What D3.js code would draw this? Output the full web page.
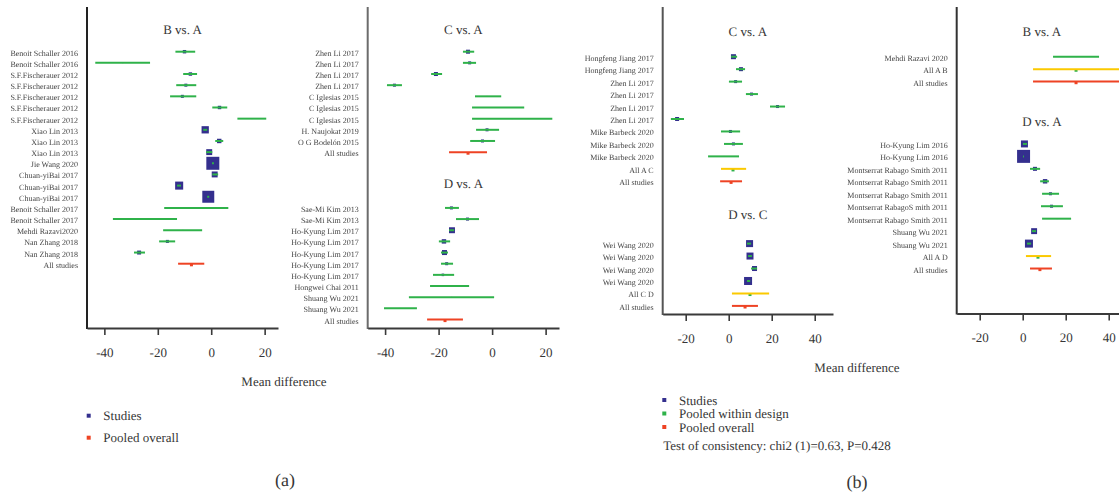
<!DOCTYPE html>
<html>
<head>
<meta charset="utf-8">
<script src="https://cdn.jsdelivr.net/npm/d3@7"></script>
<style>
  body { margin: 0; background: #fff; }
  svg { display: block; font-family: "Liberation Serif", "Times New Roman", serif; }
  text { text-rendering: geometricPrecision; }
  .row-label { opacity: 0.999; will-change: opacity; }
</style>
</head>
<body>
<svg id="chart" width="1119" height="493"></svg>
<script>
// Study rows: [study, mean difference, lower 95% CI, upper 95% CI, weight %]
// Pooled rows: [mean difference, lower 95% CI, upper 95% CI]

// (a) pairwise comparisons
const aBvsA = [
  ["Benoit Schaller 2016", -10.0, -13.4, -6.0, 6],
  ["Benoit Schaller 2016", -33.1, -43.4, -22.9, 0.5],
  ["S.F.Fischerauer 2012", -7.8, -10.5, -5.3, 6],
  ["S.F.Fischerauer 2012", -9.5, -13.1, -5.6, 4.6],
  ["S.F.Fischerauer 2012", -10.8, -15.4, -5.6, 4.6],
  ["S.F.Fischerauer 2012", 3.1, 0.4, 6.0, 6],
  ["S.F.Fischerauer 2012", 15.3, 9.8, 20.6, 0.5],
  ["Xiao Lin 2013", -2.25, -3.0, -1.5, 27],
  ["Xiao Lin 2013", 3.0, 1.5, 4.5, 10],
  ["Xiao Lin 2013", -0.75, -1.9, 0.4, 18],
  ["Jie Wang 2020", 0.6, 0.3, 1.0, 86],
  ["Chuan-yiBai 2017", 1.3, 0.4, 2.6, 18],
  ["Chuan-yiBai 2017", -12.0, -12.8, -11.3, 33],
  ["Chuan-yiBai 2017", -1.1, -1.5, -0.75, 73],
  ["Benoit Schaller 2017", -5.7, -17.6, 6.4, 0.5],
  ["Benoit Schaller 2017", -24.9, -36.8, -12.8, 0.5],
  ["Mehdi Razavi2020", -10.6, -18.0, -3.4, 0.5],
  ["Nan Zhang 2018", -16.4, -19.5, -13.5, 4.6],
  ["Nan Zhang 2018", -27.0, -28.9, -24.8, 8]
];
const aBvsAAll = [-7.4, -12.4, -2.6];

const aCvsA = [
  ["Zhen Li 2017", -9.0, -10.9, -6.7, 8.2],
  ["Zhen Li 2017", -8.4, -10.9, -6.0, 4.6],
  ["Zhen Li 2017", -21.0, -22.8, -18.7, 8.2],
  ["Zhen Li 2017", -36.5, -39.3, -33.7, 4.6],
  ["C Iglesias 2015", -1.9, -6.4, 3.4, 0.5],
  ["C Iglesias 2015", 2.2, -7.5, 12.0, 0.5],
  ["C Iglesias 2015", 7.5, -7.5, 22.5, 0.5],
  ["H. Naujokat 2019", -1.9, -6.0, 2.6, 4.6],
  ["O G Bodelón 2015", -3.6, -8.2, 1.1, 4.6]
];
const aCvsAAll = [-9.0, -16.1, -1.9];

const aDvsA = [
  ["Sae-Mi Kim 2013", -15.2, -17.6, -12.4, 4.6],
  ["Sae-Mi Kim 2013", -9.2, -13.5, -4.9, 4.6],
  ["Ho-Kyung Lim 2017", -15.0, -16.1, -14.2, 18],
  ["Ho-Kyung Lim 2017", -18.0, -19.9, -15.7, 10],
  ["Ho-Kyung Lim 2017", -17.8, -19.1, -16.5, 12.8],
  ["Ho-Kyung Lim 2017", -17.0, -19.1, -14.6, 4.6],
  ["Ho-Kyung Lim 2017", -18.4, -22.1, -14.2, 3.2],
  ["Hongwei Chai 2011", -16.1, -23.2, -8.6, 0.5],
  ["Shuang Wu 2021", -15.1, -31.1, 0.75, 0.5],
  ["Shuang Wu 2021", -34.5, -40.4, -28.1, 0.5]
];
const aDvsAAll = [-17.6, -24.3, -10.9];

// (b) comparisons split by design
const bCvsA = [
  ["Hongfeng Jiang 2017", 2.2, 1.1, 3.9, 12.8],
  ["Hongfeng Jiang 2017", 5.7, 3.4, 7.6, 8.2],
  ["Zhen Li 2017", 3.2, 0.1, 6.2, 4.6],
  ["Zhen Li 2017", 10.6, 8.0, 13.6, 4.6],
  ["Zhen Li 2017", 22.7, 19.2, 26.2, 4.6],
  ["Zhen Li 2017", -24.0, -26.9, -20.8, 8.2],
  ["Mike Barbeck 2020", 0.8, -3.6, 5.3, 4.6],
  ["Mike Barbeck 2020", 2.2, -2.2, 6.6, 4.6],
  ["Mike Barbeck 2020", -2.2, -9.6, 4.8, 0.5]
];
const bCvsADesign = ["All A C", 2.0, -3.6, 8.1];
const bCvsAAll = [1.1, -4.0, 6.2];

const bDvsC = [
  ["Wei Wang 2020", 9.7, 8.5, 10.4, 25],
  ["Wei Wang 2020", 9.9, 9.0, 10.8, 25],
  ["Wei Wang 2020", 12.0, 10.4, 13.2, 12.8],
  ["Wei Wang 2020", 9.0, 8.5, 10.0, 32.7]
];
const bDvsCDesign = ["All C D", 9.9, 1.5, 18.8];
const bDvsCAll = [7.6, 1.5, 13.6];

const bBvsA = [
  ["Mehdi Razavi 2020", 24.8, 14.1, 35.5, 0.5]
];
const bBvsADesign = ["All A B", 24.8, 4.8, 44.8];
const bBvsAAll = [24.8, 4.8, 44.8];

const bDvsA = [
  ["Ho-Kyung Lim 2016", 0.8, 0.1, 2.0, 25],
  ["Ho-Kyung Lim 2016", 0.4, 0.2, 0.6, 86],
  ["Montserrat Rabago Smith 2011", 5.7, 3.4, 8.1, 8.2],
  ["Montserrat Rabago Smith 2011", 10.4, 8.1, 12.2, 10],
  ["Montserrat Rabago Smith 2011", 12.9, 9.0, 16.9, 4.6],
  ["Montserrat RabagoS mith 2011", 13.4, 8.5, 18.7, 4.6],
  ["Montserrat Rabago Smith 2011", 16.0, 9.0, 22.5, 0.5],
  ["Shuang Wu 2021", 5.3, 4.3, 6.2, 18],
  ["Shuang Wu 2021", 2.9, 2.0, 3.9, 32.7]
];
const bDvsADesign = ["All A D", 7.1, 1.5, 13.2];
const bDvsAAll = [8.0, 3.4, 13.6];

const ticksA = [-40, -20, 0, 20];
const ticksB = [-20, 0, 20, 40];
const xLabel = "Mean difference";
const legendA = ["Studies", "Pooled overall"];
const legendB = ["Studies", "Pooled within design", "Pooled overall"];
const consistencyText = "Test of consistency: chi2 (1)=0.63, P=0.428";

// ---- styles ----
const C = {
  study: "#342f8e",
  ci: "#2fb24a",
  overall: "#ee4324",
  design: "#fbc900",
  text: "#363636",
  label: "#454545"
};

const svg = d3.select("#chart");
const size = d3.scaleSqrt().domain([0, 100]).range([0, 14]);

function drawPanel(p) {
  const g = svg.append("g");
  const x = d3.scaleLinear().domain(p.domain).range([p.left, p.right]);
  const y = d3.scaleLinear().domain([0, p.rowMax]).range(p.rowRange);

  // left frame line
  g.append("line")
    .attr("x1", p.left).attr("x2", p.left)
    .attr("y1", 7).attr("y2", p.axisY + 1)
    .attr("stroke", p.frame).attr("stroke-width", 2);

  // bottom axis
  const ax = g.append("g")
    .attr("transform", `translate(0,${p.axisY})`)
    .call(d3.axisBottom(x).tickValues(p.ticks).tickFormat(d3.format("d"))
      .tickSize(7).tickSizeOuter(0).tickPadding(12.5));
  ax.select(".domain").attr("stroke", "#3a3a3a").attr("stroke-width", 2);
  ax.selectAll(".tick line").attr("stroke", "#3a3a3a").attr("stroke-width", 1.6);
  ax.selectAll(".tick text")
    .attr("fill", C.text).style("font-size", "13px")
    .style("font-family", "'Liberation Serif', serif")
    .text(d => d < 0 ? "-" + Math.abs(d) : d);

  const labels = g.append("g").attr("class", "row-label");

  p.groups.forEach(gr => {
    g.append("text")
      .attr("x", (p.left + p.right) / 2).attr("y", y(gr.titleAt))
      .attr("dy", "0.35em").attr("text-anchor", "middle")
      .attr("fill", C.text).style("font-size", "13px")
      .text(gr.title);

    const rows = gr.studies.map((d, i) => ({
      label: d[0], est: d[1], lo: d[2], hi: d[3], w: d[4], kind: "study", idx: gr.start + i
    }));
    let k = gr.start + gr.studies.length;
    if (gr.design) {
      rows.push({ label: gr.design[0], est: gr.design[1], lo: gr.design[2], hi: gr.design[3], kind: "design", idx: k++ });
    }
    rows.push({ label: "All studies", est: gr.all[0], lo: gr.all[1], hi: gr.all[2], kind: "overall", idx: k });

    labels.selectAll(null).data(rows).enter().append("text")
      .attr("x", p.left - 9).attr("y", d => y(d.idx) + 1.2).attr("dy", "0.35em")
      .attr("text-anchor", "end").attr("fill", C.label)
      .style("font-size", "8px")
      .text(d => d.label);

    const rg = g.selectAll(null).data(rows).enter().append("g")
      .attr("transform", d => `translate(0,${y(d.idx)})`);

    // study weight squares
    rg.filter(d => d.kind === "study").append("rect")
      .attr("x", d => x(d.est) - size(d.w) / 2)
      .attr("y", d => -size(d.w) / 2)
      .attr("width", d => size(d.w)).attr("height", d => size(d.w))
      .attr("fill", C.study)
      .attr("opacity", d => Math.min(1, size(d.w) / 2.5));

    // pooled point marks
    rg.filter(d => d.kind !== "study").append("rect")
      .attr("x", d => x(d.est) - 1.5).attr("y", 0)
      .attr("width", 3).attr("height", 2.6)
      .attr("fill", d => d.kind === "design" ? C.ci : C.overall);

    // confidence intervals
    rg.append("line")
      .attr("x1", d => x(d.lo)).attr("x2", d => x(d.hi))
      .attr("y1", 0).attr("y2", 0)
      .attr("stroke", d => d.kind === "study" ? C.ci : d.kind === "design" ? C.design : C.overall)
      .attr("stroke-width", 2);
  });
}

const domA = [-46.5, 25];
const domB = [-30.7, 48.5];

drawPanel({
  domain: domA, left: 87, right: 278, axisY: 328, ticks: ticksA, frame: "#222",
  rowMax: 24, rowRange: [51.7, 319.5],
  groups: [{ title: "B vs. A", titleAt: -2, start: 0, studies: aBvsA, all: aBvsAAll }]
});
drawPanel({
  domain: domA, left: 367.7, right: 559, axisY: 328, ticks: ticksA, frame: "#6c6c6c",
  rowMax: 24, rowRange: [51.7, 319.5],
  groups: [
    { title: "C vs. A", titleAt: -2, start: 0, studies: aCvsA, all: aCvsAAll },
    { title: "D vs. A", titleAt: 11.85, start: 14, studies: aDvsA, all: aDvsAAll }
  ]
});
drawPanel({
  domain: domB, left: 662.7, right: 833, axisY: 314, ticks: ticksB, frame: "#555",
  rowMax: 20, rowRange: [56.7, 305.9],
  groups: [
    { title: "C vs. A", titleAt: -2, start: 0, studies: bCvsA, design: bCvsADesign, all: bCvsAAll },
    { title: "D vs. C", titleAt: 12.7, start: 15, studies: bDvsC, design: bDvsCDesign, all: bDvsCAll }
  ]
});
drawPanel({
  domain: domB, left: 956.7, right: 1127, axisY: 313.5, ticks: ticksB, frame: "#333",
  rowMax: 20, rowRange: [56.7, 305.9],
  groups: [
    { title: "B vs. A", titleAt: -2, start: 0, studies: bBvsA, design: bBvsADesign, all: bBvsAAll },
    { title: "D vs. A", titleAt: 5.2, start: 7, studies: bDvsA, design: bDvsADesign, all: bDvsAAll }
  ]
});

// axis titles
[[284, 381], [857, 367]].forEach(([cx, cy]) => {
  svg.append("text").attr("x", cx).attr("y", cy).attr("dy", "0.35em")
    .attr("text-anchor", "middle").attr("fill", C.text)
    .style("font-size", "13px").text(xLabel);
});

// legend (a)
const legColA = [C.study, C.overall];
legendA.forEach((t, i) => {
  const yy = 415.7 + i * 22;
  svg.append("rect").attr("x", 86.7).attr("y", yy - 2).attr("width", 4).attr("height", 4).attr("fill", legColA[i]);
  svg.append("text").attr("x", 103.3).attr("y", yy).attr("dy", "0.35em")
    .attr("fill", C.text).style("font-size", "13px").text(t);
});

// legend (b)
const legColB = [C.study, C.ci, C.overall];
legendB.forEach((t, i) => {
  const yy = 400 + i * 13.5;
  svg.append("rect").attr("x", 662.3).attr("y", yy - 2).attr("width", 4).attr("height", 4).attr("fill", legColB[i]);
  svg.append("text").attr("x", 679).attr("y", yy).attr("dy", "0.35em")
    .attr("fill", C.text).style("font-size", "13px").text(t);
});
svg.append("text").attr("x", 663.3).attr("y", 445.7).attr("dy", "0.35em")
  .attr("fill", C.text).style("font-size", "13px").text(consistencyText);

// sub-figure tags
[["(a)", 285, 480], ["(b)", 857, 481.7]].forEach(([t, cx, cy]) => {
  svg.append("text").attr("x", cx).attr("y", cy).attr("dy", "0.35em")
    .attr("text-anchor", "middle").attr("fill", C.text)
    .style("font-size", "18px").text(t);
});
</script>
</body>
</html>
